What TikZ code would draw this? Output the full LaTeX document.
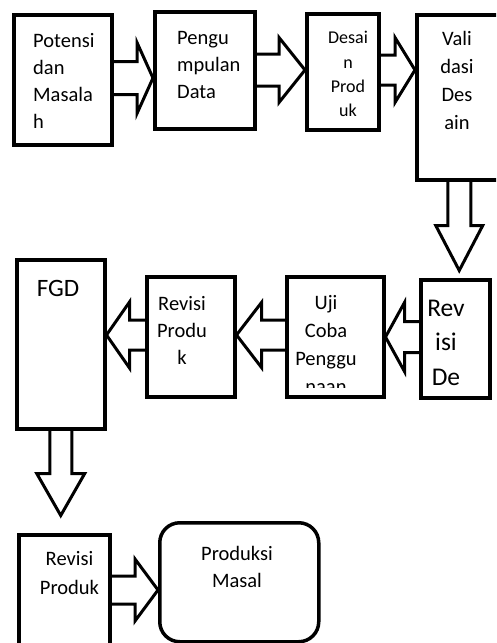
\documentclass[tikz,border=0pt]{standalone}
\usepackage{fontspec}
\setmainfont{Carlito}
\usetikzlibrary{calc,backgrounds}
\newcommand{\blockR}[5]{\draw[blk] ($(#1.east |- #2)+(-8,-#3)$) -- ($(#2)+(-#5,-#3)$) -- ($(#2)+(-#5,-#4)$) -- (#2) -- ($(#2)+(-#5,#4)$) -- ($(#2)+(-#5,#3)$) -- ($(#1.east |- #2)+(-8,#3)$) -- cycle;}
\newcommand{\blockL}[5]{\draw[blk] ($(#1.west |- #2)+(8,-#3)$) -- ($(#2)+(#5,-#3)$) -- ($(#2)+(#5,-#4)$) -- (#2) -- ($(#2)+(#5,#4)$) -- ($(#2)+(#5,#3)$) -- ($(#1.west |- #2)+(8,#3)$) -- cycle;}
\newcommand{\blockD}[5]{\draw[blk] ($(#1.south -| #2)+(-#3,-8)$) -- ($(#2)+(-#3,-#5)$) -- ($(#2)+(-#4,-#5)$) -- (#2) -- ($(#2)+(#4,-#5)$) -- ($(#2)+(#3,-#5)$) -- ($(#1.south -| #2)+(#3,-8)$) -- cycle;}

\begin{document}
\begin{tikzpicture}[x=1pt,y=-1pt,
  box/.style={draw,line width=3.5pt,fill=white,anchor=north west,inner sep=0pt},
  blk/.style={draw,line width=3pt,fill=white,line join=miter},
  txt/.style={anchor=north,inner sep=0pt,align=center,font=\fontsize{20.5}{27}\selectfont}]
  \useasboundingbox (0,0) rectangle (496,643);
  \clip (0,0) rectangle (496,643);
  \node[box,minimum width=98pt,minimum height=130pt] (pot) at (12,13) {};
  \node[box,minimum width=100pt,minimum height=117pt] (pen) at (153,10) {};
  \node[box,minimum width=72pt,minimum height=116pt] (des) at (305,12) {};
  \node[box,minimum width=85pt,minimum height=165pt] (val) at (415,13) {};
  \node[box,minimum width=69pt,minimum height=118pt] (rvd) at (419,278) {};
  \node[box,minimum width=97pt,minimum height=120pt] (uji) at (285,275) {};
  \node[box,minimum width=88pt,minimum height=120pt] (rvp) at (145,275) {};
  \node[box,minimum width=88pt,minimum height=169pt] (fgd) at (15,258) {};
  \node[box,minimum width=91pt,minimum height=127pt] (rvpb) at (17,533) {};
  \node[box,rounded corners=20pt,minimum width=159pt,minimum height=119pt] (pm) at (158,521) {};
  \node[txt,anchor=north west,align=left] (potT) at (33,33.4) {Potensi\\dan\\Masala\\h};
  \node[txt,anchor=north west,align=left] (penT) at (177,31.4) {Pengu\\mpulan\\Data};
  \node[txt,font=\fontsize{18}{24.3}\selectfont] (desT) at (348,31.2) {Desai\\n\\Prod\\uk};
  \node[txt,font=\fontsize{20.5}{28}\selectfont] (valT) at (457,31.4) {Vali\\dasi\\Des\\ain};
  \node[txt,font=\fontsize{25.5}{34.5}\selectfont] (rvdT) at (446,299.8) {Rev\\isi\\De};
  \begin{scope}
    \clip (uji.north west) rectangle ($(uji.south east)+(0,-11)$);
    \node[txt,font=\fontsize{20.5}{28}\selectfont] (ujiT) at (326,295.4) {Uji\\Coba\\Penggu\\naan};
  \end{scope}
  \node[txt] (rvpT) at (182,296.4) {Revisi\\Produ\\k};
  \node[txt,font=\fontsize{25}{30}\selectfont] (fgdT) at (58,280) {FGD};
  \node[txt,font=\fontsize{20.5}{28.5}\selectfont] (rvpbT) at (69.5,551.4) {Revisi\\Produk};
  \node[txt] (pmT) at (237,546.4) {Produksi\\Masal};
  \coordinate (t1) at (pen.west |- 0,78);
  \coordinate (t2) at (des.west |- 0,70);
  \coordinate (t3) at (val.west |- 0,70);
  \coordinate (t4) at ($(val.south)+(0,89)$);
  \coordinate (t5) at (uji.east |- 0,337);
  \coordinate (t6) at (rvp.east |- 0,335);
  \coordinate (t7) at (fgd.east |- 0,335);
  \coordinate (t8) at ($(fgd.south)+(0,85)$);
  \coordinate (t9) at (pm.west |- 0,590);
  \begin{scope}[on background layer]
    \blockR{pot}{t1}{16.5}{35.5}{16}
    \blockR{pen}{t2}{16}{32.5}{26}
    \blockR{des}{t3}{15}{32.5}{20}
    \blockD{val}{t4}{11.5}{23.5}{45}
    \blockL{rvd}{t5}{15.5}{34.5}{19}
    \blockL{uji}{t6}{15}{32.5}{25}
    \blockL{rvp}{t7}{15}{33}{23}
    \blockD{fgd}{t8}{11}{24}{42}
    \blockR{rvpb}{t9}{14}{31}{23}
  \end{scope}
\end{tikzpicture}
\end{document}
